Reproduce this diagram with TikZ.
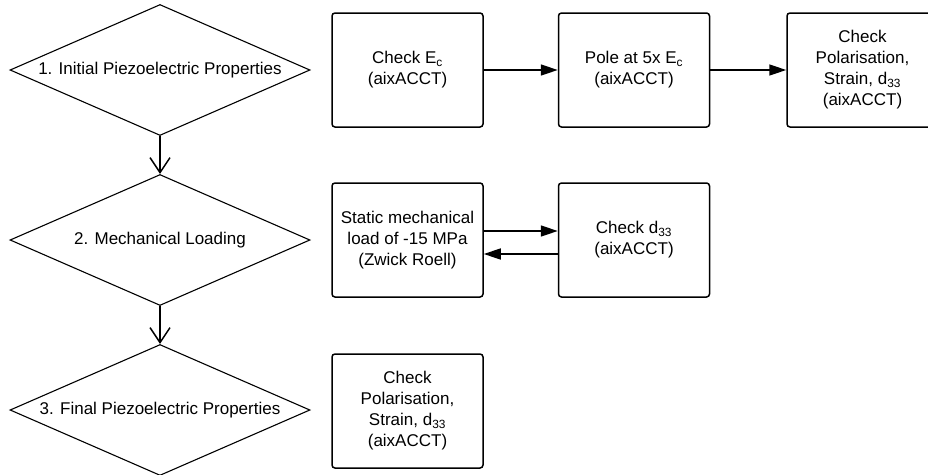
\documentclass[tikz,border=0pt]{standalone}
\usepackage{fontspec}
\setmainfont{Liberation Sans}
\usetikzlibrary{shapes.geometric, arrows.meta}

\begin{document}
\begin{tikzpicture}[x=1pt, y=-1pt,
    stage/.style={diamond, draw, line width=1.1pt, aspect=2.3, inner sep=0pt,
      minimum width=300pt, minimum height=131pt, font=\fontsize{17}{21}\selectfont},
    task/.style={draw, rounded corners=3pt, line width=1.5pt, minimum width=151pt,
      minimum height=114pt, align=center, font=\fontsize{17}{21}\selectfont},
    flow/.style={line width=1.5pt, -{Triangle[length=17pt,width=11pt]}},
    stageflow/.style={line width=1.5pt, -{Straight Barb[length=15pt,width=20pt]}}]
    \useasboundingbox (0,0) rectangle (928,474);

    % stages
    \node[stage] (initial) at (160,70) {1. Initial Piezoelectric Properties};
    \node[stage] (loading) at (160,240) {2. Mechanical Loading};
    \node[stage] (final) at (160,410) {3. Final Piezoelectric Properties};

    % steps
    \node[task] (checkEc) at (407.5,70) {Check E\textsubscript{c}\\(aixACCT)};
    \node[task] (pole) at (634,70) {Pole at 5x E\textsubscript{c}\\(aixACCT)};
    \node[task] (checkAll) at (862.5,70) {Check\\Polarisation,\\Strain, d\textsubscript{33}\\(aixACCT)};
    \node[task] (static) at (407.5,240) {Static mechanical\\load of -15 MPa\\(Zwick Roell)};
    \node[task] (checkd) at (634,240) {Check d\textsubscript{33}\\(aixACCT)};
    \node[task] (checkFinal) at (407.5,411) {Check\\Polarisation,\\Strain, d\textsubscript{33}\\(aixACCT)};

    \draw[stageflow] (initial) -- (loading);
    \draw[stageflow] (loading) -- (final);
    \draw[flow] (checkEc) -- (pole);
    \draw[flow] (pole) -- (checkAll);
    \draw[flow] ([yshift=9pt]static.east) -- ([yshift=9pt]checkd.west);
    \draw[flow] ([yshift=-14pt]checkd.west) -- ([yshift=-14pt]static.east);
\end{tikzpicture}
\end{document}
